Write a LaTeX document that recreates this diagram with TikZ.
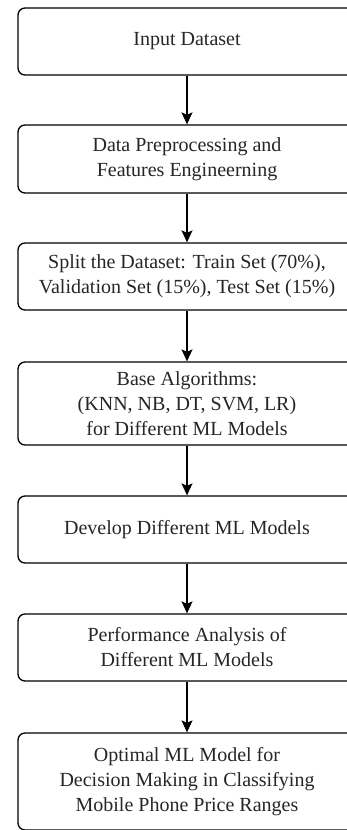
\documentclass[tikz,border=0pt]{standalone}
\usepackage{fontspec}
\setmainfont{Liberation Serif}
\usetikzlibrary{arrows.meta}
\begin{document}
\begin{tikzpicture}[x=1pt,y=-1pt,
  box/.style={draw=black, line width=1.3pt, rounded corners=7pt, fill=white,
    minimum width=338pt, inner sep=0pt, align=center,
    font=\fontsize{20}{25}\selectfont, text=black!85},
  arr/.style={draw=black, line width=1.3pt, -{Stealth[length=12pt,width=11pt,inset=2.5pt]}}]
\useasboundingbox (0,0) rectangle (347,830);
\clip (0,0) rectangle (347,830);
\node[box, minimum height=67pt] (b1) at (187,41.5) {Input Dataset};
\node[box, minimum height=68pt] (b2) at (187,159) {Data Preprocessing and\\Features Engineerning};
\node[box, minimum height=67pt] (b3) at (187,276.5) {Split the Dataset: Train Set (70\%),\\Validation Set (15\%), Test Set (15\%)};
\node[box, minimum height=83pt] (b4) at (187,403.5) {Base Algorithms:\\(KNN, NB, DT, SVM, LR)\\for Different ML Models};
\node[box, minimum height=67pt] (b5) at (187,529.5) {Develop Different ML Models};
\node[box, minimum height=67pt] (b6) at (187,647.5) {Performance Analysis of\\Different ML Models};
\node[box, minimum height=97pt] (b7) at (187,781.5) {Optimal ML Model for\\Decision Making in Classifying\\Mobile Phone Price Ranges};
\draw[arr] (b1) -- (b2);
\draw[arr] (b2) -- (b3);
\draw[arr] (b3) -- (b4);
\draw[arr] (b4) -- (b5);
\draw[arr] (b5) -- (b6);
\draw[arr] (b6) -- (b7);
\end{tikzpicture}
\end{document}
